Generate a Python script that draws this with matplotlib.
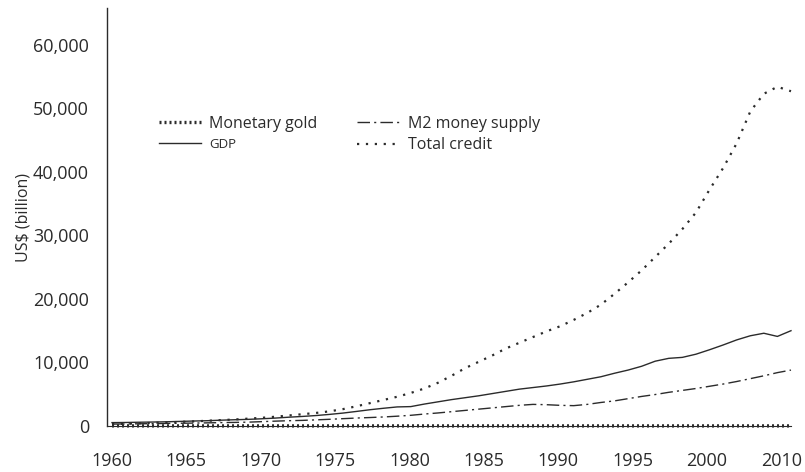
import numpy as np
import matplotlib.pyplot as plt

plt.rcParams['font.family'] = ['Open Sans', 'DejaVu Sans']

# US$ billion, yearly 1960-2010
years = np.arange(1960, 2011)

total_credit = [300, 350, 420, 480, 560, 640, 720, 820, 920, 1020,
                1150, 1280, 1450, 1650, 1850, 2050, 2300, 2650, 3100, 3600,
                4100, 4600, 5200, 5900, 6800, 7900, 9100, 10100, 11100, 12200,
                13100, 14000, 14900, 15700, 16700, 17800, 19100, 20800, 22600, 24500,
                26600, 28700, 31000, 33600, 37200, 40600, 44500, 49500, 52300, 53400,
                52700]

gdp = [530, 550, 590, 620, 660, 720, 780, 830, 910, 980,
       1040, 1130, 1240, 1380, 1500, 1640, 1820, 2030, 2290, 2560,
       2790, 3000, 3050, 3450, 3800, 4150, 4450, 4750, 5100, 5450,
       5800, 6050, 6300, 6600, 6950, 7350, 7750, 8300, 8800, 9400,
       10200, 10650, 10800, 11300, 12000, 12750, 13550, 14200, 14600, 14100,
       15000]

m2 = [300, 320, 345, 370, 400, 430, 455, 490, 530, 560,
      600, 680, 760, 830, 880, 960, 1050, 1150, 1250, 1330,
      1420, 1540, 1680, 1880, 2050, 2250, 2450, 2650, 2850, 3050,
      3250, 3400, 3350, 3250, 3200, 3400, 3700, 3950, 4300, 4650,
      4950, 5300, 5600, 5900, 6250, 6600, 7000, 7450, 7900, 8400,
      8800]

monetary_gold = [18, 17, 16, 16, 15, 14, 13, 12, 11, 12,
                 11, 10, 10, 11, 11, 11, 11, 11, 11, 11,
                 11, 11, 11, 11, 11, 11, 11, 11, 11, 11,
                 11, 11, 11, 11, 11, 11, 11, 11, 11, 11,
                 11, 11, 11, 11, 11, 11, 11, 11, 11, 11,
                 11]

tick_labels = ['1960', '1965', '1970', '1975', '1980', '1985',
               '1990', '1995', '2000', '2010']

ink = '#2b2b2b'

fig = plt.figure(figsize=(8.05, 4.72), dpi=100)
ax = fig.add_axes([0.1329, 0.0975, 0.8497, 0.8855])

ax.plot(years, monetary_gold, color=ink, lw=2.4, linestyle=(0, (0.6, 0.9)),
        label='Monetary gold', clip_on=False, zorder=4)
ax.plot(years, gdp, color=ink, lw=1.0, label='GDP', clip_on=False)
ax.plot(years, m2, color=ink, lw=1.0, linestyle=(0, (9, 3, 1.5, 3)),
        label='M2 money supply', clip_on=False)
ax.plot(years, total_credit, color=ink, lw=1.6, linestyle=(0, (1, 3.0)),
        label='Total credit', clip_on=False)

ax.set_xlim(1959.63, 2010)
ax.set_ylim(0, 65800)

# evenly spaced year labels, as in the original
ax.set_xticks(np.linspace(1960, 2009.3, len(tick_labels)))
ax.set_xticklabels(tick_labels)
yt = np.arange(0, 60001, 10000)
ax.set_yticks(yt)
ax.set_yticklabels([f'{v:,}' for v in yt])
ax.tick_params(axis='both', length=0, labelsize=13, colors=ink)
ax.tick_params(axis='y', pad=13)
ax.tick_params(axis='x', pad=19)

ax.set_ylabel('US$ (billion)', fontsize=11.5, color=ink)
ax.yaxis.set_label_coords(-0.11, 0.5)

for side in ['top', 'right']:
    ax.spines[side].set_visible(False)
ax.spines['left'].set_color(ink)
ax.spines['left'].set_linewidth(1.0)
ax.spines['bottom'].set_color(ink)
ax.spines['bottom'].set_linewidth(0.8)

leg = ax.legend(ncol=2, loc='upper left', bbox_to_anchor=(0.055, 0.777),
                frameon=False, fontsize=11.5, handlelength=2.6,
                handletextpad=0.55, columnspacing=2.5, labelspacing=0.35)
for t in leg.get_texts():
    t.set_color(ink)
    if t.get_text() == 'GDP':
        t.set_fontsize(9.5)

fig.savefig('out.png', dpi=100)
